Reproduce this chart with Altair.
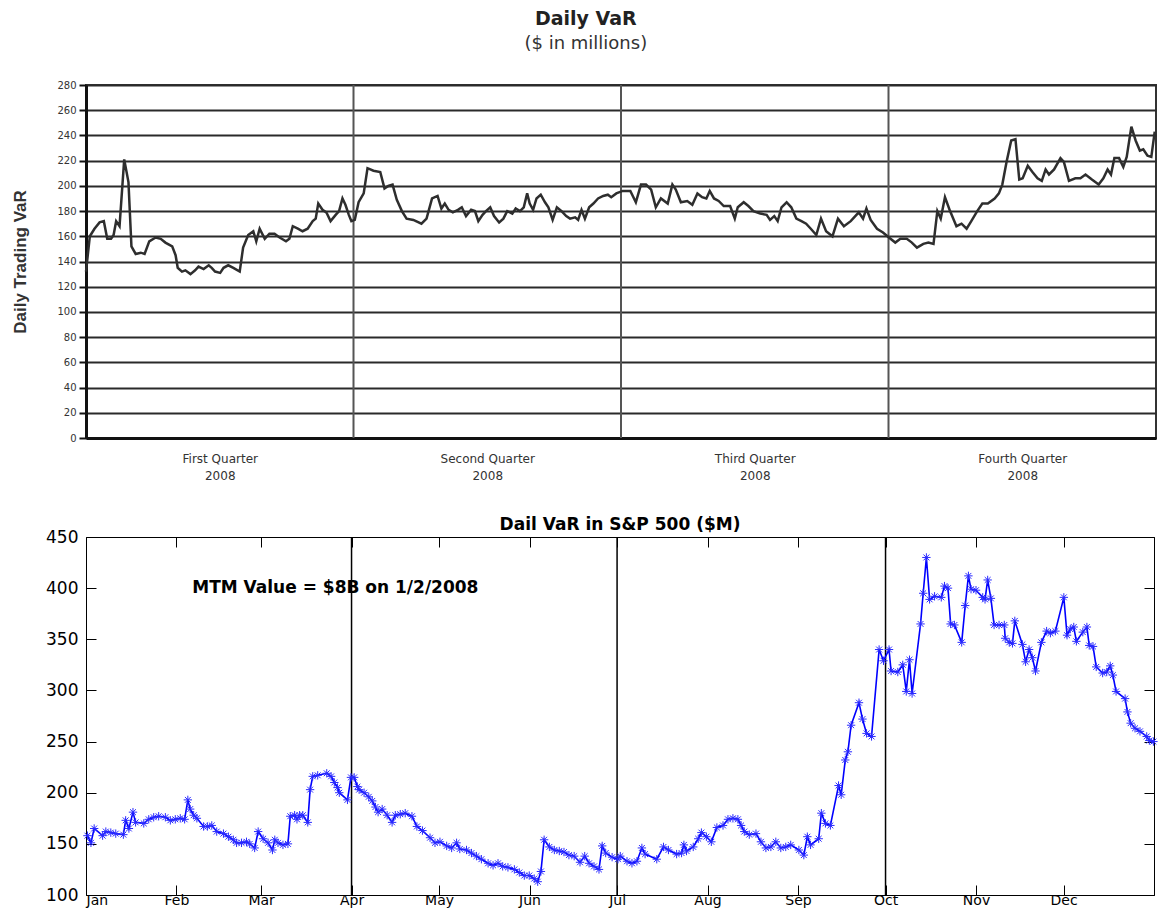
import altair as alt
import pandas as pd

# ---------------- Top panel: Daily VaR ($ in millions), trading-day index 0..252 -------------
top_day = [0, 0.9, 2.0, 3.2, 4.2, 5.0, 5.9, 6.5, 7.1, 7.9, 9.0, 10.0, 10.7, 11.7, 12.9, 13.8, 14.9, 16.4,
           17.6, 18.7, 20.3, 21.1, 21.6, 22.6, 23.4, 24.6, 25.7, 26.5, 27.7, 28.9, 29.6, 30.4, 31.6, 32.4,
           33.5, 34.7, 36.2, 37.0, 38.2, 39.4, 40.1, 40.9, 42.1, 43.2, 44.4, 45.6, 47.1, 47.9, 48.7, 49.9,
           51.0, 52.2, 53.4, 54.1, 54.7, 55.7, 56.6, 57.6, 58.8, 59.6, 60.4, 61.1, 61.9, 62.5, 63.3, 64.2,
           65.4, 66.3, 67.7, 69.3, 70.3, 71.2, 72.2, 73.2, 74.4, 75.5, 77.1, 79.0, 80.2, 81.5, 82.8, 83.7,
           84.5, 85.4, 86.4, 87.6, 88.5, 89.5, 90.7, 91.6, 92.4, 93.4, 94.2, 95.2, 96.1, 97.3, 98.3, 99.2,
           100.4, 101.2, 102.2, 103.1, 103.9, 104.5, 105.3, 106.1, 107.1, 108.1, 108.9, 109.9, 110.9, 112.0,
           113.1, 114.0, 115.2, 115.9, 116.7, 117.5, 118.5, 119.5, 120.6, 121.8, 122.9, 123.7, 124.9, 126.4,
           128.2, 129.5, 130.7, 131.9, 133.1, 134.2, 135.4, 137.0, 138.1, 138.9, 140.1, 141.6, 142.8, 144.0,
           145.1, 146.1, 146.9, 147.9, 149.0, 150.2, 151.7, 152.8, 153.5, 154.9, 156.0, 157.2, 158.8, 160.3,
           161.1, 162.1, 162.9, 163.8, 165.0, 166.1, 167.3, 168.5, 169.6, 170.7, 172.0, 173.1, 174.3, 175.8,
           177.1, 178.5, 180.1, 182.0, 183.0, 183.8, 184.8, 186.3, 187.7, 189.1, 190.6, 191.8, 193.3, 194.5,
           195.7, 197.2, 198.4, 199.6, 200.5, 201.3, 202.3, 203.5, 205.0, 206.2, 207.4, 208.5, 209.9, 211.1,
           212.4, 214.0, 215.0, 215.8, 216.8, 217.9, 218.9, 219.8, 220.6, 221.8, 222.9, 224.1, 225.1, 226.0,
           226.8, 228.0, 229.5, 230.3, 231.5, 233.0, 234.2, 235.4, 236.9, 238.5, 239.6, 240.6, 241.4, 242.2,
           243.3, 244.3, 245.1, 246.2, 247.2, 248.2, 249.0, 250.0, 250.9, 251.7]
top_var = [132, 160, 166, 171, 172, 158, 158, 161, 172, 168, 221, 203, 152, 146, 147, 146, 156, 159,
           158, 155, 152, 145, 135, 132, 133, 130, 133, 136, 134, 137, 135, 132, 131, 135,
           137, 135, 132, 151, 161, 164, 156, 166, 158, 162, 162, 159, 156, 158, 168, 166,
           164, 166, 172, 174, 186, 181, 179, 172, 177, 180, 190, 185, 177, 172, 173, 187,
           194, 214, 212, 211, 198, 200, 201, 189, 180, 174, 173, 170, 174, 190, 192, 182,
           186, 181, 179, 181, 183, 176, 181, 180, 172, 177, 180, 183, 176, 171, 174, 180,
           178, 182, 180, 183, 194, 186, 181, 190, 193, 187, 183, 173, 183, 180,
           176, 174, 175, 173, 181, 174, 183, 186, 190, 192, 193, 191, 194, 196,
           196, 187, 201, 201, 197, 183, 190, 186, 201, 197, 187, 188, 185, 194,
           191, 190, 196, 190, 188, 184, 184, 174, 183, 187, 184, 180, 178, 177,
           173, 176, 172, 183, 187, 183, 174, 172, 170, 166, 161, 174, 164, 160,
           174, 168, 172, 179, 174, 182, 173, 166, 163, 159, 155, 158, 158, 155,
           151, 154, 155, 154, 180, 174, 191, 180, 168, 170, 166, 172, 180, 186,
           186, 190, 194, 201, 219, 236, 237, 205, 206, 216, 211, 206, 204, 213,
           209, 213, 222, 219, 204, 206, 206, 209, 205, 201, 206, 213, 209, 222,
           222, 215, 223, 247, 236, 228, 229, 224, 223, 243]

top_quarter_bounds = [63, 126, 189]
top_quarter_centers = [31.5, 94.5, 157.5, 220.5]
quarter_names = ["First Quarter", "Second Quarter", "Third Quarter", "Fourth Quarter"]
quarter_year = "2008"
top_y_ticks = list(range(0, 281, 20))

# ---------------- Bottom panel: Daily VaR in S&P 500 ($M), day of year 2008 ----------------
sp_day = [0.5, 1.7, 2.8, 5.7, 6.8, 8.5, 10.2, 12.8, 13.6, 14.7, 16.1, 17.0, 19.8, 21.5, 23.2, 24.9, 27.2,
          28.9, 30.6, 32.3, 33.8, 34.9, 35.7, 36.9, 38.0, 40.3, 41.6, 43.1, 44.8, 47.1, 48.8, 50.5, 51.6,
          53.3, 55.0, 56.1, 57.8, 59.0, 60.7, 62.4, 63.9, 64.7, 65.8, 67.5, 69.2, 70.0, 71.5, 72.3, 73.2,
          74.3, 76.0, 76.8, 77.7, 79.4, 82.5, 84.0, 85.1, 86.2, 86.8, 89.6, 90.8, 91.9, 93.0, 93.6, 95.3,
          96.9, 98.1, 99.2, 100.1, 101.5, 103.2, 104.9, 106.0, 107.7, 109.4, 111.7, 113.4, 115.3, 117.9,
          119.6, 121.3, 123.6, 125.3, 127.0, 128.1, 130.4, 132.1, 133.8, 135.5, 137.8, 139.5, 141.2, 142.8,
          144.6, 146.8, 148.5, 150.2, 151.9, 153.6, 154.8, 155.9, 157.0, 158.8, 160.5, 162.2, 163.8, 165.5,
          167.3, 169.3, 170.9, 172.4, 174.1, 175.8, 176.9, 178.1, 180.3, 182.3, 183.1, 185.4, 187.1, 188.8,
          190.5, 191.6, 195.6, 197.9, 199.6, 202.4, 204.1, 204.9, 205.8, 208.1, 209.8, 210.9, 212.6, 214.3,
          216.2, 218.3, 220.0, 221.7, 223.4, 224.5, 225.6, 227.3, 229.6, 231.3, 233.0, 234.7, 236.4, 238.1,
          239.8, 241.5, 244.3, 246.0, 247.2, 248.3, 251.1, 252.0, 253.4, 255.1, 257.9, 258.8, 260.2, 261.1,
          262.2, 264.9, 266.1, 267.5, 269.2, 271.8, 273.3, 275.2, 275.9, 278.2, 279.9, 281.1, 282.2, 283.1,
          286.0, 286.9, 288.0, 289.1, 290.8, 293.1, 294.2, 295.4, 296.3, 297.6, 300.1, 301.3, 302.4, 303.3,
          305.0, 307.3, 308.1, 309.0, 310.1, 311.2, 312.9, 314.7, 315.0, 316.4, 317.5, 318.3, 320.9, 322.0,
          323.2, 324.3, 325.4, 327.4, 329.2, 330.5, 332.2, 335.1, 336.2, 337.3, 338.5, 339.4, 341.6, 343.0,
          343.8, 345.1, 346.2, 348.4, 349.8, 351.0, 351.9, 353.0, 356.1, 356.9, 358.0, 359.5, 361.2, 363.5,
          364.4, 365.8]
sp_var = [158, 151, 165, 158, 162, 161, 160, 159, 173, 165, 181, 171, 170, 174, 176, 177, 176,
          173, 174, 175, 174, 193, 184, 178, 175, 167, 167, 168, 162, 160, 157, 154, 151,
          151, 152, 150, 146, 162, 155, 151, 144, 154, 151, 149, 150, 177, 178, 174, 178,
          178, 171, 203, 216, 217, 219, 216, 210, 205, 200, 193, 215, 215, 206, 203, 200,
          196, 192, 186, 181, 184, 178, 171, 178, 179, 180, 177, 167, 163, 156,
          151, 152, 148, 146, 151, 145, 144, 141, 138, 135, 131, 129, 131, 128,
          127, 125, 122, 119, 119, 116, 113, 123, 154, 147, 144, 143, 142, 139,
          138, 132, 138, 131, 128, 125, 148, 141, 137, 135, 138, 133, 131, 133,
          146, 140, 135, 147, 144, 140, 141, 149, 143, 147, 155, 161, 157, 152,
          166, 168, 174, 175, 174, 168, 162, 159, 160, 152, 146, 147, 152, 146,
          147, 149, 144, 139, 157, 149, 155, 180, 170, 168, 207, 198, 232, 240,
          266, 288, 272, 258, 255, 340, 329, 340, 319, 318, 325, 299, 330, 297,
          365, 395, 430, 389, 392, 391, 402, 400, 365, 364, 347, 383, 412, 399,
          398, 391, 389, 408, 390, 364, 364, 364, 351, 347, 346, 368, 345, 328,
          340, 332, 319, 347, 358, 356, 358, 391, 354, 360, 362, 348, 357, 362,
          344, 343, 323, 317, 318, 324, 315, 299, 292, 279, 268, 263, 260, 255,
          251, 250]

sp_quarter_bounds = [91, 182, 274]
month_starts = [0, 31, 60, 91, 121, 152, 182, 213, 244, 274, 305, 335, 366]
month_names = ["Jan", "Feb", "Mar", "Apr", "May", "Jun", "Jul", "Aug", "Sep", "Oct", "Nov", "Dec", "Jan"]
sp_y_ticks = [100, 150, 200, 250, 300, 350, 400, 450]
note_text = ["MTM Value = $8B on 1/2/2008"]
note_day = [36.4]
note_value = [400]

FONT_W = "DejaVu Sans"
FONT_A = "Liberation Sans"
ASTERISK = "M-1,0L1,0M0,-1L0,1M-0.7,-0.7L0.7,0.7M-0.7,0.7L0.7,-0.7"

# ---------------- build top panel ----------------
top_df = pd.DataFrame({"day": top_day, "var": top_var})
top_qb = pd.DataFrame({"day": top_quarter_bounds})

q_expr = " : ".join(
    f"datum.value == {c} ? ['{n}', '{quarter_year}']" for c, n in zip(top_quarter_centers, quarter_names)
) + " : ''"

x_top = alt.X(
    "day:Q",
    scale=alt.Scale(domain=[0, 252], nice=False, zero=False),
    axis=alt.Axis(values=top_quarter_centers, labelExpr=q_expr, ticks=False, grid=False,
                  domainColor="#111111", domainWidth=3, labelFont=FONT_W, labelFontSize=12,
                  labelColor="#333333", labelPadding=15, labelLineHeight=17, labelAngle=0,
                  title=None),
)
y_top = alt.Y(
    "var:Q",
    scale=alt.Scale(domain=[0, 280], nice=False),
    axis=alt.Axis(values=top_y_ticks, grid=True, gridColor="#2a2a2a", gridWidth=2,
                  domainColor="#111111", domainWidth=3, tickColor="#111111", tickSize=7,
                  tickWidth=2, labelFont=FONT_W, labelFontSize=10, labelColor="#333333",
                  labelPadding=3, title="Daily Trading VaR", titleFont=FONT_A,
                  titleFontSize=17, titleFontWeight="bold", titleColor="#333333",
                  titlePadding=27),
)

top_rules = alt.Chart(top_qb).mark_rule(color="#555555", strokeWidth=2).encode(x=x_top)
top_line = alt.Chart(top_df).mark_line(color="#2e2e2e", strokeWidth=2.5).encode(x=x_top, y=y_top)

top = alt.layer(top_rules, top_line).properties(
    width=1070,
    height=353,
    view=alt.ViewBackground(stroke="#333333", strokeWidth=2),
    title=alt.TitleParams(
        text="Daily VaR", subtitle="($ in millions)", font=FONT_W, fontSize=19,
        fontWeight="bold", color="#222222", subtitleFont=FONT_W, subtitleFontSize=18,
        subtitleColor="#333333", subtitlePadding=6, anchor="middle", frame="bounds", offset=27,
    ),
)

# ---------------- build bottom panel ----------------
sp_df = pd.DataFrame({"day": sp_day, "var": sp_var})
sp_qb = pd.DataFrame({"day": sp_quarter_bounds})
note_df = pd.DataFrame({"day": note_day, "var": note_value, "text": note_text})

# the final "Jan" tick label is cut off at the right edge in the reference; it is left blank here
m_expr = " : ".join(
    f"datum.value == {d} ? '{n}'" for d, n in zip(month_starts[:-1], month_names[:-1])
) + " : ''"

x_scale = alt.Scale(domain=[0, 366], nice=False, zero=False)
y_scale = alt.Scale(domain=[100, 450], nice=False, zero=False)

common_tick = dict(tickSize=10, tickColor="black", tickWidth=1, domain=False, grid=False, title=None)

x_bottom = alt.X("day:Q", scale=x_scale, axis=alt.Axis(
    orient="bottom", offset=-10, values=month_starts, labelExpr=m_expr, labelFont=FONT_W,
    labelFontSize=14, labelColor="black", labelPadding=-2, labelAngle=0, **common_tick))
y_left = alt.Y("var:Q", scale=y_scale, axis=alt.Axis(
    orient="left", offset=-10, values=sp_y_ticks, labelFont=FONT_W, labelFontSize=17,
    labelColor="black", labelPadding=8, **common_tick))
x_topax = alt.X("day:Q", scale=x_scale, axis=alt.Axis(
    orient="top", offset=-10, values=month_starts, labels=False, **common_tick))
y_right = alt.Y("var:Q", scale=y_scale, axis=alt.Axis(
    orient="right", offset=-10, values=sp_y_ticks, labels=False, **common_tick))

sp_rules = alt.Chart(sp_qb).mark_rule(color="black", strokeWidth=1.5).encode(
    x=alt.X("day:Q", scale=x_scale, axis=None))
sp_line = alt.Chart(sp_df).mark_line(color="#0000ff", strokeWidth=1.6).encode(x=x_bottom, y=y_left)
sp_pts = alt.Chart(sp_df).mark_point(shape=ASTERISK, color="#2a2aff", size=70, strokeWidth=1,
                                     filled=False, opacity=1).encode(x=x_topax, y=y_right)
sp_note = alt.Chart(note_df).mark_text(align="left", baseline="middle", font=FONT_W, fontSize=17,
                                       fontWeight="bold", color="black").encode(
    x=alt.X("day:Q", scale=x_scale, axis=None),
    y=alt.Y("var:Q", scale=y_scale, axis=None),
    text="text:N",
)

bottom = alt.layer(sp_rules, sp_line, sp_pts, sp_note).resolve_axis(
    x="independent", y="independent"
).properties(
    width=1068,
    height=358,
    view=alt.ViewBackground(stroke="black", strokeWidth=1),
    title=alt.TitleParams(text="Dail VaR in S&P 500 ($M)", font=FONT_W, fontSize=17,
                          fontWeight="bold", color="black", anchor="middle", frame="group",
                          offset=-6),
)

chart = alt.vconcat(top, bottom, spacing=33).properties(
    padding={"left": 2, "top": 1, "right": 0, "bottom": 0}
).configure(background="white")

chart.save("out.html", embed_options={"renderer": "svg", "actions": False})
